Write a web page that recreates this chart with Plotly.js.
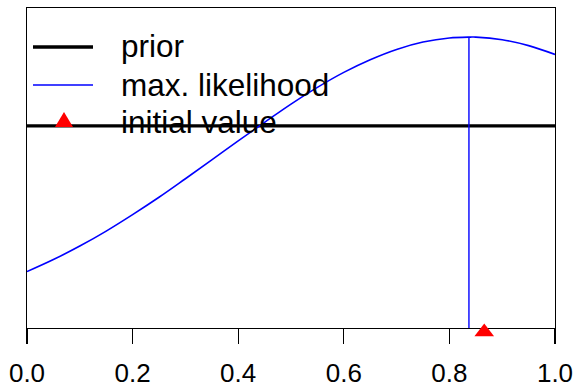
<!DOCTYPE html>
<html>
<head>
<meta charset="utf-8">
<script src="https://cdn.plot.ly/plotly-3.0.1.min.js"></script>
<style>html,body{margin:0;padding:0;background:#fff;}#chart{width:576px;height:389px;}</style>
</head>
<body>
<div id="chart"></div>
<script>
// Parameter grid (x) and scaled curves (y)
const paramGrid = [0.00, 0.05, 0.10, 0.15, 0.20, 0.25, 0.30, 0.35, 0.40, 0.45, 0.50,
                   0.55, 0.60, 0.65, 0.70, 0.75, 0.80, 0.84, 0.85, 0.90, 0.95, 1.00];
const likelihood = [0.202, 0.243, 0.289, 0.340, 0.396, 0.455, 0.518, 0.582, 0.647, 0.710, 0.772,
                    0.829, 0.880, 0.923, 0.958, 0.983, 0.997, 1.000, 1.000, 0.991, 0.971, 0.941];
const priorX = [0, 1];
const priorY = [0.698, 0.698];
const mleX = [0.837, 0.837];
const mleY = [0, 1.0];
const initialX = [0.866];
const initialY = [0];
const tickVals = [0, 0.2, 0.4, 0.6, 0.8, 1.0];
const tickText = ["0.0", "0.2", "0.4", "0.6", "0.8", "1.0"];
const seriesNames = ["prior", "max. likelihood", "initial value"];

// layout helpers: pixel -> paper fraction (plot area 27..555 x, 8..339 y)
const W = 576, H = 389, ML = 27, MR = 21, MT = 8, MB = 50;
const PW = W - ML - MR, PH = H - MT - MB;
const px = v => (v - ML) / PW;
const py = v => (H - MB - v) / PH;
const axisBottom = 328;             // pixel of x-axis line
const yMainDomain0 = py(axisBottom);
const yRange = [0.0102, 1.099];
const unitPx = (axisBottom - MT) / (yRange[1] - yRange[0]);
const markerPx = 332;               // pixel row of the initial-value marker centre
const y2Range = [-(H - MB - markerPx) / unitPx, (markerPx - MT) / unitPx];

const FONT = 'Liberation Sans, Arial, Helvetica, sans-serif';

const traces = [
  {x: priorX, y: priorY, mode: 'lines', name: seriesNames[0],
   line: {color: '#000000', width: 3.3}, showlegend: false},
  {x: paramGrid, y: likelihood, mode: 'lines', name: seriesNames[1],
   line: {color: '#0000ff', width: 1.6, shape: 'spline', smoothing: 1}, showlegend: false},
  {x: mleX, y: mleY, mode: 'lines', name: 'mle',
   line: {color: '#0000ff', width: 1.4}, showlegend: false},
  {x: initialX, y: initialY, xaxis: 'x2', yaxis: 'y2', mode: 'markers', name: seriesNames[2],
   marker: {symbol: 'triangle-up', color: '#ff0000', size: 17, line: {width: 0}},
   cliponaxis: false, showlegend: false}
];

const legendRows = [47, 85, 122];
const legendTextRows = [46, 85, 122];
const annotations = seriesNames.map((t, i) => ({
  text: t, xref: 'paper', yref: 'paper', x: px(119), y: py(legendTextRows[i]),
  xanchor: 'left', yanchor: 'middle', showarrow: false,
  font: {size: 31.5, family: FONT, color: '#000000'}
}));

const shapes = [
  {type: 'line', xref: 'paper', yref: 'paper', x0: px(33), x1: px(93), y0: py(legendRows[0]), y1: py(legendRows[0]),
   line: {color: '#000000', width: 3.3}},
  {type: 'line', xref: 'paper', yref: 'paper', x0: px(33), x1: px(93), y0: py(legendRows[1]), y1: py(legendRows[1]),
   line: {color: '#0000ff', width: 1.6}},
  {type: 'path', xref: 'paper', yref: 'paper', xsizemode: 'pixel', ysizemode: 'pixel',
   xanchor: px(64), yanchor: py(legendRows[2] - 1), path: 'M-9,-6 L9,-6 L0,9 Z',
   fillcolor: '#ff0000', line: {width: 0}}
];

const layout = {
  width: W, height: H,
  margin: {l: ML, r: MR, t: MT, b: MB},
  paper_bgcolor: '#ffffff', plot_bgcolor: 'rgba(0,0,0,0)',
  font: {family: FONT, color: '#000000'},
  showlegend: false,
  annotations: annotations,
  shapes: shapes,
  xaxis: {range: [0, 1], tickvals: tickVals, ticktext: tickText, ticks: 'outside',
          ticklen: 15, tickwidth: 1.3, tickcolor: '#000', showgrid: false, zeroline: false,
          showline: true, linecolor: '#000', linewidth: 1.3, mirror: true, anchor: 'y',
          tickfont: {size: 26}, ticklabelstandoff: 6},
  yaxis: {range: yRange, domain: [yMainDomain0, 1], showticklabels: false, ticks: '', showgrid: false,
          zeroline: false, showline: true, linecolor: '#000', linewidth: 1.3, mirror: true, anchor: 'x'},
  xaxis2: {range: [0, 1], domain: [0, 1], anchor: 'y2', visible: false, showgrid: false, zeroline: false},
  yaxis2: {range: y2Range, domain: [0, 1], anchor: 'x2', visible: false, showgrid: false, zeroline: false}
};

Plotly.newPlot('chart', traces, layout, {displayModeBar: false, staticPlot: true});
</script>
</body>
</html>
